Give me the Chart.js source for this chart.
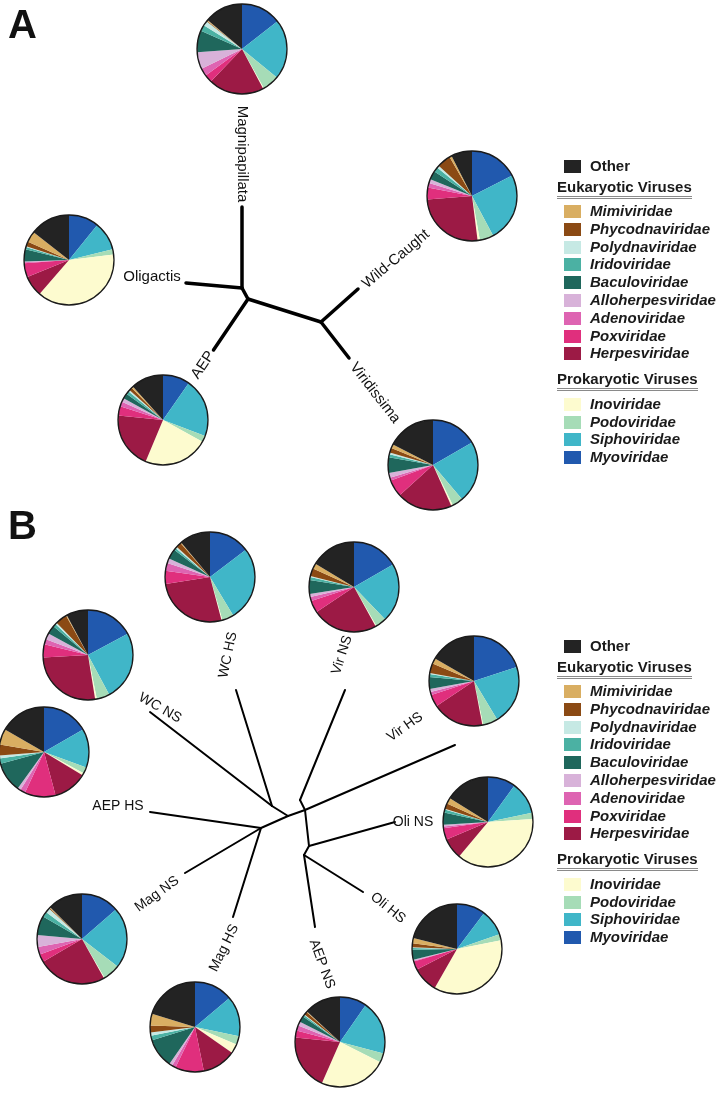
<!DOCTYPE html>
<html>
<head>
<meta charset="utf-8">
<script src="https://cdn.jsdelivr.net/npm/chart.js@4.4.0/dist/chart.umd.min.js"></script>
<style>
body { margin:0; background:#fff; }
#page { position:relative; width:720px; height:1093px; overflow:hidden; font-family:"Liberation Sans", Arial, sans-serif; }
#tree { position:absolute; left:0; top:0; }
.pie { position:absolute; }
.panel { position:absolute; font:bold 40px "Liberation Sans Narrow", "Liberation Sans", Arial; color:#111; line-height:1; }
.legend { position:absolute; left:557px; width:160px; color:#1a1a1a; }
.legend .row { position:absolute; left:7px; height:15px; white-space:nowrap; }
.legend .sw { position:absolute; left:0; top:1px; width:17px; height:13px; }
.legend .tx { position:absolute; left:26px; top:-2px; font:italic bold 15px "Liberation Sans Narrow", Arial; }
.legend .other { font-style:normal; }
.legend .head { position:absolute; left:0; font:bold 15px "Liberation Sans Narrow", Arial; border-bottom:3px double #8a8a8a; padding-bottom:1px; white-space:nowrap; }
</style>
</head>
<body>
<div id="page">
  <canvas id="tree" width="720" height="1093"></canvas>
  <div class="panel" style="left:8px;top:4px">A</div>
  <div class="panel" style="left:8px;top:505px">B</div>
</div>
<script>
// virus families, in the clockwise order the slices are drawn (legend order is the reverse)
var families = ['Myoviridae', 'Siphoviridae', 'Podoviridae', 'Inoviridae',
  'Herpesviridae', 'Poxviridae', 'Adenoviridae', 'Alloherpesviridae', 'Baculoviridae',
  'Iridoviridae', 'Polydnaviridae', 'Phycodnaviridae', 'Mimiviridae', 'Other'];
var familyColors = ['#2159ae', '#40b6c8', '#a6dcb7', '#fdfbcf',
  '#9c1a45', '#e02f7d', '#de64b2', '#d8b2d9', '#1f675c',
  '#4bb1a3', '#c6e9e4', '#8b4a14', '#d9ae62', '#232323'];
var eukaryotic = ['Mimiviridae', 'Phycodnaviridae', 'Polydnaviridae', 'Iridoviridae', 'Baculoviridae',
  'Alloherpesviridae', 'Adenoviridae', 'Poxviridae', 'Herpesviridae'];
var prokaryotic = ['Inoviridae', 'Podoviridae', 'Siphoviridae', 'Myoviridae'];

// panel A: relative abundance (%) per strain
var magnipapillata = [14.5, 21.5, 6, 0.3, 20, 2.8, 2.8, 6.1, 7.8, 2.2, 1.7, 0.3, 0.3, 13.9];
var wildCaught     = [17.5, 24.7, 5, 0.8, 25.8, 4.2, 1.7, 1.4, 3.1, 1.7, 0.8, 5, 0.8, 7.5];
var oligactis      = [10.8, 10.3, 1.9, 38.3, 7.5, 5, 0.3, 0.3, 4.4, 0.8, 0.3, 1.7, 3.9, 14.4];
var aep            = [9.7, 21.1, 2.2, 23.3, 20.3, 3.3, 1.7, 1.4, 1.9, 1.1, 0.6, 1.1, 0.6, 11.7];
var viridissima    = [16.7, 22.2, 3.9, 0.6, 20, 6.1, 1.1, 1.7, 5.6, 1.1, 0.6, 1.7, 1.4, 17.5];

// panel B: normal (NS) and heat shock (HS) conditions
var wcHS  = [14.7, 26.7, 4.2, 0.3, 26.7, 4.7, 2.8, 1.7, 3.6, 0.8, 0.6, 1.9, 0.3, 11.1];
var virNS = [16.7, 21.1, 3.9, 0.3, 23.6, 4.4, 1.4, 1.1, 5, 1.1, 0.3, 2.8, 1.9, 16.4];
var wcNS  = [17.2, 25, 4.7, 0.6, 26.7, 4.7, 1.9, 2.2, 3.1, 1.1, 0.6, 4.2, 0.3, 7.8];
var virHS = [20, 21.4, 5.3, 0.3, 18.6, 4.4, 1.1, 1.1, 4.2, 1.1, 0.3, 3.6, 1.9, 16.7];
var aepHS = [16.7, 13.9, 2.2, 0.8, 12.2, 11.1, 1.9, 1.1, 10.8, 1.9, 1.1, 3.9, 5.6, 16.7];
var oliNS = [10, 11.7, 2.2, 37.2, 7.5, 4.2, 0.6, 0.6, 4.4, 1.1, 0.3, 1.9, 2.2, 16.1];
var magNS = [13.6, 21.9, 6.1, 0.3, 24.7, 2.8, 2.8, 4.2, 6.9, 1.9, 1.7, 0.3, 0.3, 12.5];
var oliHS = [10.3, 9.4, 2.2, 36.4, 9.2, 3.1, 0.3, 0.3, 3.6, 0.6, 0.3, 1.4, 1.9, 21.1];
var magHS = [13.9, 14.4, 3.1, 3.3, 12.2, 10.3, 1.4, 1.1, 10.6, 1.7, 1.1, 2.5, 4.2, 20.3];
var aepNS = [9.7, 19.4, 3.3, 24.2, 20, 2.5, 1.9, 1.4, 2.2, 0.6, 0.3, 1.1, 0.3, 13.1];

// unrooted trees: node coordinates and edges
var treeANodes = [[242, 207], [242, 288], [186, 283], [248, 299], [213.5, 350], [321, 322], [358, 289], [349, 358]];
var treeAEdges = [[0, 1], [2, 1], [1, 3], [3, 4], [3, 5], [5, 6], [5, 7]];
var treeBNodes = [
  [236, 690], [272, 806], [345, 690], [300, 800], [150, 712], [455, 745], [305, 810],
  [150, 812], [261, 828], [395, 822], [309, 846], [185, 873], [233, 917], [363, 892],
  [304, 855], [315, 927], [288, 816]
];
var treeBEdges = [[0, 1], [4, 1], [1, 16], [2, 3], [3, 6], [5, 6], [6, 16], [16, 8], [7, 8],
  [11, 8], [12, 8], [9, 10], [6, 10], [10, 14], [13, 14], [15, 14]];

// layout: where each pie sits and where each branch label goes
var pieRadius = 45;
var pies = [
  [magnipapillata, 242, 49], [wildCaught, 472, 196], [oligactis, 69, 260], [aep, 163, 420], [viridissima, 433, 465],
  [wcHS, 210, 577], [virNS, 354, 587], [wcNS, 88, 655], [virHS, 474, 681], [aepHS, 44, 752],
  [oliNS, 488, 822], [magNS, 82, 939], [oliHS, 457, 949], [magHS, 195, 1027], [aepNS, 340, 1042]
];
var labels = [
  ['Magnipapillata', 242, 154, 90, 15], ['Oligactis', 152, 277, 0, 15], ['AEP', 203, 365, -56, 15],
  ['Wild-Caught', 396, 259, -40, 15], ['Viridissima', 375, 393, 52, 15],
  ['WC HS', 228, 655, -78, 14], ['Vir NS', 342, 655, -72, 14], ['WC NS', 160, 708, 30, 14],
  ['Vir HS', 405, 727, -35, 14], ['AEP HS', 118, 806, 0, 14], ['Oli NS', 413, 822, 0, 14],
  ['Mag NS', 157, 894, -36, 14], ['Mag HS', 224, 948, -64, 14], ['Oli HS', 388, 908, 39, 14],
  ['AEP NS', 322, 964, 70, 14]
];

function edgeSets(nodes, edges, width) {
  return edges.map(function (e) {
    return {
      data: [{ x: nodes[e[0]][0], y: nodes[e[0]][1] }, { x: nodes[e[1]][0], y: nodes[e[1]][1] }],
      showLine: true, borderColor: '#000', borderWidth: width, pointRadius: 0,
      borderCapStyle: 'round', borderJoinStyle: 'round'
    };
  });
}

var branchLabels = {
  id: 'branchLabels',
  afterDatasetsDraw: function (chart) {
    var c = chart.ctx;
    labels.forEach(function (l) {
      c.save();
      c.translate(chart.scales.x.getPixelForValue(l[1]), chart.scales.y.getPixelForValue(l[2]));
      c.rotate(l[3] * Math.PI / 180);
      c.font = l[4] + 'px "Liberation Sans", Arial, sans-serif';
      c.fillStyle = '#111';
      c.textAlign = 'center';
      c.textBaseline = 'middle';
      c.fillText(l[0], 0, 0);
      c.restore();
    });
  }
};

new Chart(document.getElementById('tree'), {
  type: 'scatter',
  data: { datasets: edgeSets(treeANodes, treeAEdges, 3.5).concat(edgeSets(treeBNodes, treeBEdges, 2)) },
  options: {
    responsive: false,
    animation: false,
    layout: { padding: 0 },
    scales: {
      x: { type: 'linear', min: 0, max: 720, display: false },
      y: { type: 'linear', min: 0, max: 1093, reverse: true, display: false }
    },
    plugins: { legend: { display: false }, tooltip: { enabled: false } }
  },
  plugins: [branchLabels]
});

var outline = {
  id: 'outline',
  afterDatasetsDraw: function (chart) {
    var arc = chart.getDatasetMeta(0).data[0];
    var c = chart.ctx;
    c.save();
    c.beginPath();
    c.arc(arc.x, arc.y, arc.outerRadius, 0, Math.PI * 2);
    c.lineWidth = 1.3;
    c.strokeStyle = '#1a1a1a';
    c.stroke();
    c.restore();
  }
};

var page = document.getElementById('page');
pies.forEach(function (p) {
  var cv = document.createElement('canvas');
  var size = pieRadius * 2 + 4;
  cv.width = size; cv.height = size;
  cv.className = 'pie';
  cv.style.left = (p[1] - size / 2) + 'px';
  cv.style.top = (p[2] - size / 2) + 'px';
  page.appendChild(cv);
  new Chart(cv, {
    type: 'pie',
    data: { labels: families, datasets: [{ data: p[0], backgroundColor: familyColors, borderWidth: 0 }] },
    options: {
      responsive: false,
      animation: false,
      layout: { padding: 2 },
      plugins: { legend: { display: false }, tooltip: { enabled: false } }
    },
    plugins: [outline]
  });
});

// legends (HTML)
function colorOf(name) { return familyColors[families.indexOf(name)]; }
function buildLegend(top) {
  var lg = document.createElement('div');
  lg.className = 'legend';
  lg.style.top = top + 'px';
  var html = '<div class="row" style="top:0px"><span class="sw" style="background:' + colorOf('Other') +
    '"></span><span class="tx other">Other</span></div>';
  html += '<div class="head" style="top:19px">Eukaryotic Viruses</div>';
  eukaryotic.forEach(function (f, i) {
    html += '<div class="row" style="top:' + (45 + i * 17.8) + 'px"><span class="sw" style="background:' +
      colorOf(f) + '"></span><span class="tx">' + f + '</span></div>';
  });
  html += '<div class="head" style="top:211px">Prokaryotic Viruses</div>';
  prokaryotic.forEach(function (f, i) {
    html += '<div class="row" style="top:' + (238 + i * 17.7) + 'px"><span class="sw" style="background:' +
      colorOf(f) + '"></span><span class="tx">' + f + '</span></div>';
  });
  lg.innerHTML = html;
  page.appendChild(lg);
}
buildLegend(159);
buildLegend(639);
</script>
</body>
</html>
